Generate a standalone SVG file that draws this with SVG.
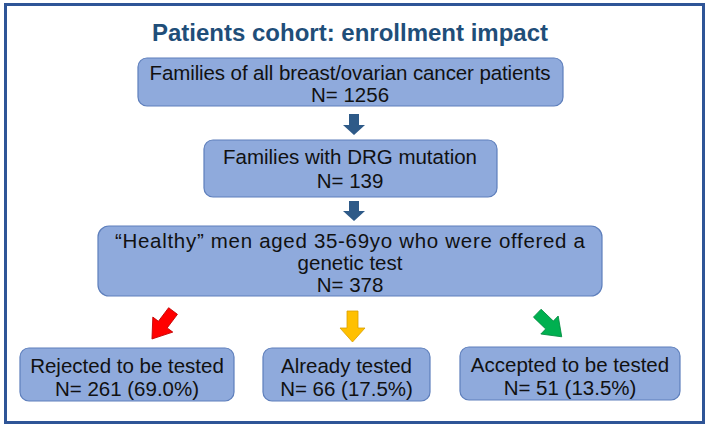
<svg xmlns="http://www.w3.org/2000/svg" width="709" height="427" viewBox="0 0 709 427">
<style>
.box{fill:#8FAADC;stroke:#5E7FBC;stroke-width:1.2}
.t{font-family:"Liberation Sans",Arial,sans-serif;font-size:20.5px;fill:#111;text-anchor:middle}
.title{font-family:"Liberation Sans",Arial,sans-serif;font-size:24px;font-weight:bold;fill:#1F4E79;text-anchor:middle}
.dark{fill:#2E5A88}
</style>
<rect x="0" y="0" width="709" height="427" fill="#fff"/>
<rect x="5.5" y="4.5" width="698" height="418" fill="none" stroke="#2F5597" stroke-width="3"/>
<text class="title" x="350" y="41">Patients cohort: enrollment impact</text>
<g id="n1">
<rect class="box" x="138" y="58" width="425" height="48" rx="9"/>
<text class="t" x="350" y="80" textLength="401" lengthAdjust="spacing">Families of all breast/ovarian cancer patients</text>
<text class="t" x="350" y="102">N= 1256</text>
</g>
<g id="n2">
<rect class="box" x="204" y="140" width="293" height="57" rx="9"/>
<text class="t" x="350" y="164">Families with DRG mutation</text>
<text class="t" x="350" y="188">N= 139</text>
</g>
<g id="n3">
<rect class="box" x="98" y="226" width="504" height="70" rx="11"/>
<text class="t" x="350" y="248" textLength="470" lengthAdjust="spacing">“Healthy” men aged 35-69yo who were offered a</text>
<text class="t" x="350" y="270">genetic test</text>
<text class="t" x="350" y="292">N= 378</text>
</g>
<g id="n4">
<rect class="box" x="20" y="348" width="214" height="53" rx="9"/>
<text class="t" x="127" y="373">Rejected to be tested</text>
<text class="t" x="127" y="396">N= 261 (69.0%)</text>
</g>
<g id="n5">
<rect class="box" x="263" y="348" width="167" height="53" rx="9"/>
<text class="t" x="346.5" y="373">Already tested</text>
<text class="t" x="346.5" y="396">N= 66 (17.5%)</text>
</g>
<g id="n6">
<rect class="box" x="460" y="347" width="220" height="53" rx="9"/>
<text class="t" x="570" y="372">Accepted to be tested</text>
<text class="t" x="570" y="395">N= 51 (13.5%)</text>
</g>
<g id="connectors">
<path class="dark" d="M349,114 h10 v11 h6 l-11,10 l-11,-10 h6 z"/>
<path class="dark" d="M349,201 h10 v10 h6 l-11,10 l-11,-10 h6 z"/>
<path transform="translate(162.5,325) rotate(37)" d="M-5.5,-17.5 h11 v17 h7 l-12.5,18 l-12.5,-18 h7 z" fill="#FF0000" stroke="#C00000" stroke-width="0.8"/>
<path transform="translate(352.5,326.5)" d="M-5.5,-15.5 h11 v17 h7 l-12.5,14 l-12.5,-14 h7 z" fill="#FFC000" stroke="#D9A000" stroke-width="0.8"/>
<path transform="translate(549.5,325) rotate(-46)" d="M-5.5,-17 h11 v17 h7 l-12.5,17 l-12.5,-17 h7 z" fill="#00B050" stroke="#008A3E" stroke-width="0.8"/>
</g>
</svg>
